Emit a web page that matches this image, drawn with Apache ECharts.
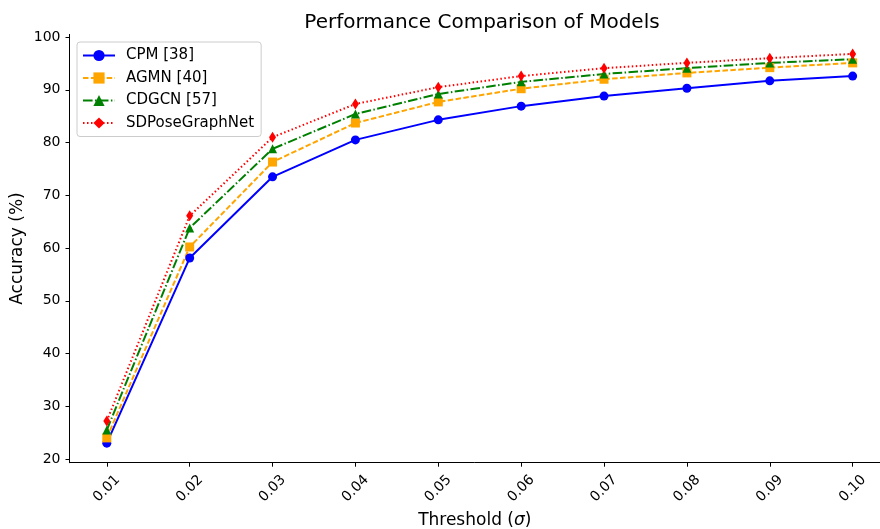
<!DOCTYPE html>
<html>
<head>
<meta charset="utf-8">
<script src="https://cdn.jsdelivr.net/npm/echarts@6/dist/echarts.min.js"></script>
<style>
  html, body { margin: 0; padding: 0; background: #fff; }
  #chart { width: 880px; height: 529px; }
</style>
</head>
<body>
<div id="chart"></div>
<script>
var thresholds = [0.01, 0.02, 0.03, 0.04, 0.05, 0.06, 0.07, 0.08, 0.09, 0.10];
var yTicks = [20, 30, 40, 50, 60, 70, 80, 90, 100];

var cpm = [23.0, 58.1, 73.5, 80.5, 84.3, 86.9, 88.8, 90.3, 91.7, 92.6];
var agmn = [24.0, 60.2, 76.3, 83.7, 87.7, 90.2, 92.0, 93.2, 94.2, 95.1];
var cdgcn = [25.5, 63.8, 78.8, 85.4, 89.2, 91.5, 93.0, 94.1, 95.1, 95.8];
var sdpose = [27.2, 66.1, 81.0, 87.3, 90.5, 92.6, 94.1, 95.1, 96.0, 96.8];

var seriesNames = ['CPM [38]', 'AGMN [40]', 'CDGCN [57]', 'SDPoseGraphNet'];

function pairs(vals) {
    return thresholds.map(function (t, i) { return [t, vals[i]]; });
}

var font = 'DejaVu Sans';
var myChart = echarts.init(document.getElementById('chart'));

function makeSeries(name, vals, color, dash, symbol, size) {
    return {
        name: name,
        type: 'line',
        data: pairs(vals),
        symbol: symbol,
        symbolSize: size,
        showSymbol: true,
        color: color,
        itemStyle: { color: color },
        lineStyle: { color: color, width: 2, type: dash },
        emphasis: { disabled: true },
        animation: false
    };
}

var option = {
    backgroundColor: '#fff',
    title: {
        text: 'Performance Comparison of Models',
        left: 477,
        textAlign: 'center',
        top: 8,
        textStyle: { fontFamily: font, fontSize: 20, fontWeight: 'normal', color: '#000' }
    },
    legend: {
        orient: 'vertical',
        left: 77,
        top: 42,
        padding: [6, 7, 6, 5],
        itemGap: 7.5,
        itemWidth: 32,
        itemHeight: 14,
        borderColor: '#cccccc',
        borderWidth: 1,
        borderRadius: 3,
        backgroundColor: '#fff',
        data: seriesNames,
        textStyle: { fontFamily: font, fontSize: 15, color: '#000', padding: [0, 0, 0, 6] }
    },
    grid: { left: 69.5, right: 0, top: 34.4, bottom: 66.3, containLabel: false, outerBoundsMode: 'none' },
    xAxis: {
        type: 'value',
        min: 0.0055,
        max: 0.1033,
        name: 'Threshold ({i|σ})',
        nameLocation: 'middle',
        nameGap: 46,
        nameTextStyle: {
            fontFamily: font, fontSize: 17, color: '#000',
            rich: { i: { fontFamily: font, fontSize: 17, fontStyle: 'italic', color: '#000' } }
        },
        axisLine: { show: true, lineStyle: { color: '#000', width: 1 } },
        axisTick: { show: true, length: 4, inside: false, lineStyle: { color: '#000' }, customValues: thresholds },
        axisLabel: {
            customValues: thresholds,
            rotate: 45,
            align: 'center',
            verticalAlign: 'middle',
            margin: 26,
            fontFamily: font,
            fontSize: 14,
            color: '#000',
            formatter: function (v) { return v.toFixed(2); }
        },
        splitLine: { show: false }
    },
    yAxis: {
        type: 'value',
        min: 19.3,
        max: 100.5,
        name: 'Accuracy (%)',
        nameLocation: 'middle',
        nameGap: 43,
        nameMoveOverlap: false,
        nameTextStyle: { fontFamily: font, fontSize: 17, color: '#000' },
        axisLine: { show: true, lineStyle: { color: '#000', width: 1 } },
        axisTick: { show: true, length: 4, inside: false, lineStyle: { color: '#000' }, customValues: yTicks },
        axisLabel: {
            customValues: yTicks,
            margin: 9,
            fontFamily: font,
            fontSize: 14,
            color: '#000'
        },
        splitLine: { show: false }
    },
    series: [
        makeSeries(seriesNames[0], cpm, '#0000ff', 'solid', 'circle', 9),
        makeSeries(seriesNames[1], agmn, '#ffa500', [5.5, 2.4], 'rect', 9),
        makeSeries(seriesNames[2], cdgcn, '#008000', [9.6, 2.4, 1.5, 2.4], 'triangle', 9),
        makeSeries(seriesNames[3], sdpose, '#ff0000', [1.5, 2.5], 'diamond', [7, 11])
    ]
};
myChart.setOption(option);
</script>
</body>
</html>
